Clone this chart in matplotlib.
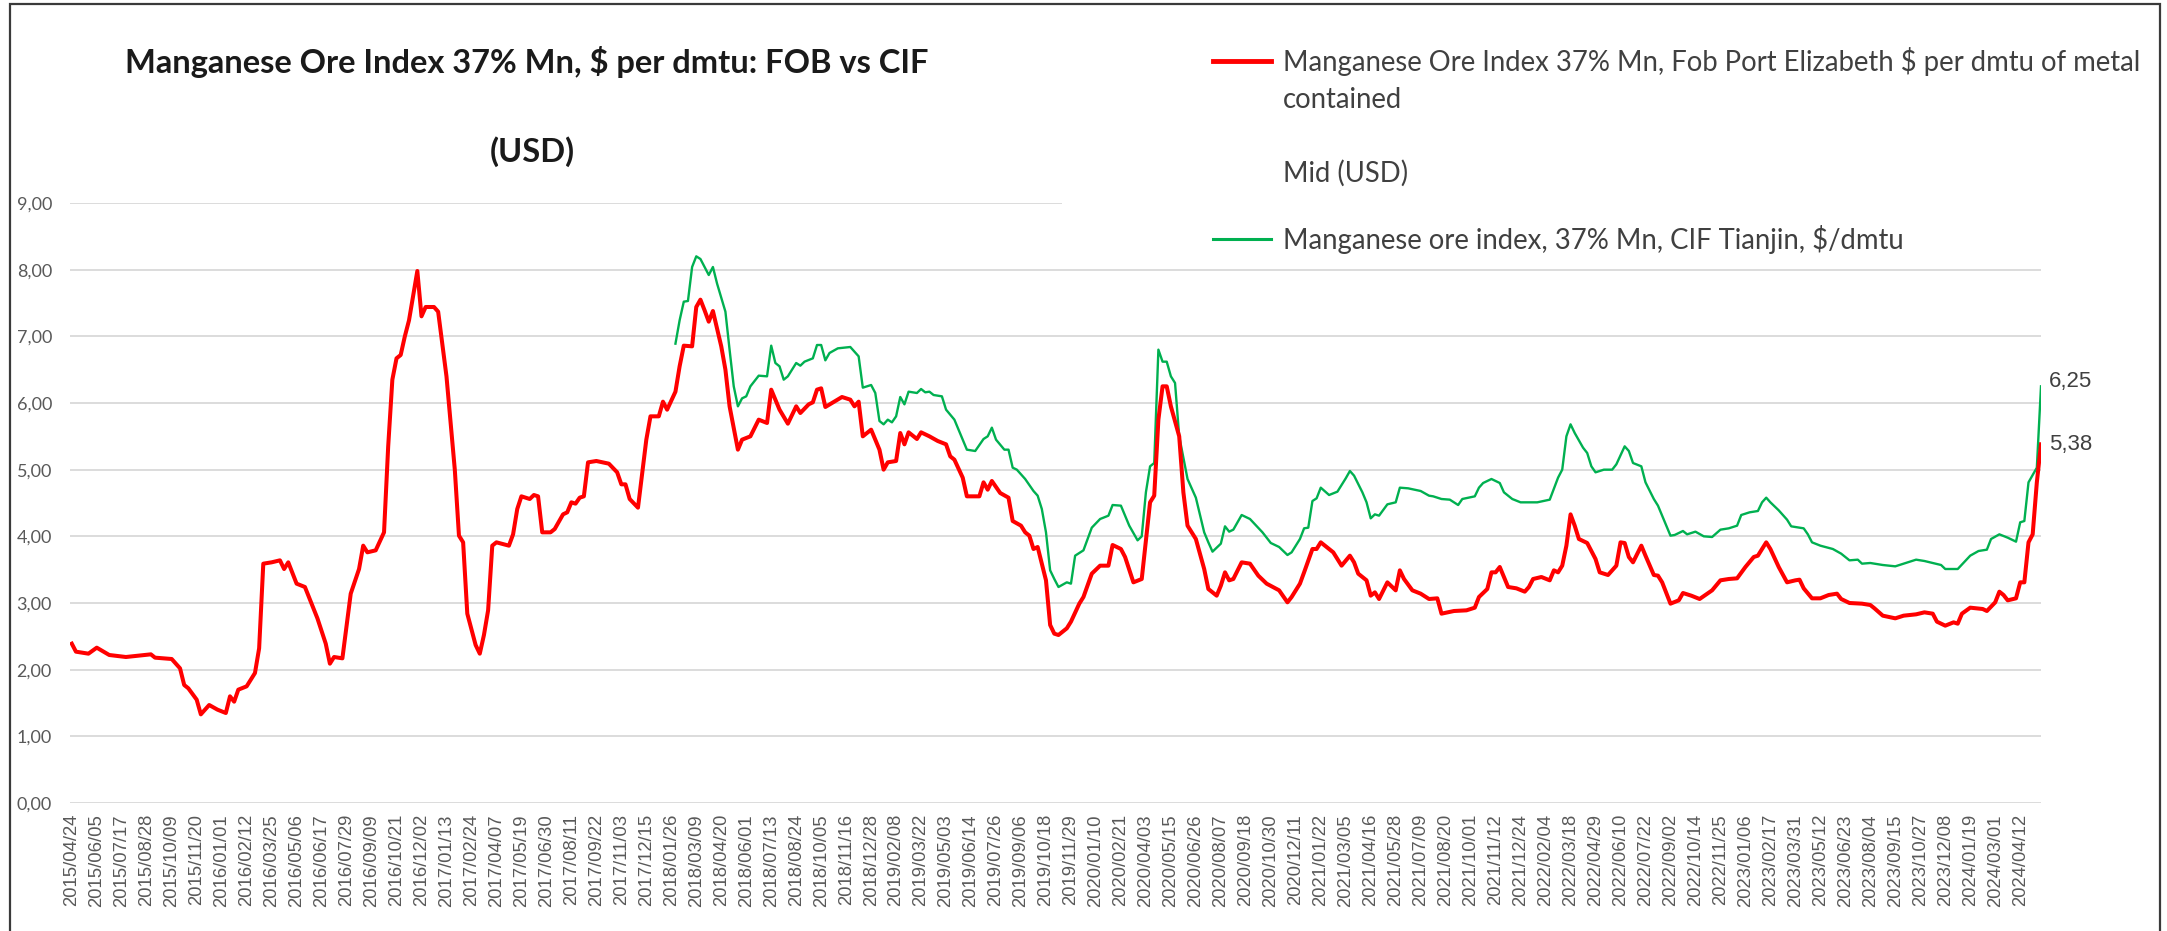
import numpy as np
import pandas as pd
import matplotlib
matplotlib.use("Agg")
import matplotlib.pyplot as plt
from matplotlib.lines import Line2D
from matplotlib.patches import Rectangle
from matplotlib.ticker import FuncFormatter

# weekly series, week numbers counted from START
START = "2015-04-24"

fob_wk = [0, 1, 4, 6, 9, 13, 19, 20, 24, 26, 27, 28, 30, 31, 33, 35, 37, 38, 39, 40, 42, 44, 45,
          46, 48, 50, 51, 52, 54, 56, 59, 61, 62, 63, 65, 67, 69, 70, 71, 73, 75, 76, 77, 78, 79,
          80, 81, 83, 84, 85, 87, 88, 90, 92, 93, 94, 95, 97, 98, 99, 100, 101, 102, 105, 106, 107,
          108, 110, 111, 112, 113, 115, 116, 118, 119, 120, 121, 122, 123, 124, 126, 129, 131, 132,
          133, 134, 136, 138, 139, 141, 142, 143, 145, 146, 147, 149, 150, 151, 152, 153, 154, 156,
          157, 158, 160, 161, 163, 165, 167, 168, 170, 172, 174, 175, 177, 178, 179, 180, 181, 185,
          187, 188, 189, 190, 192, 194, 195, 196, 198, 199, 200, 201, 203, 204, 206, 208, 210, 211,
          212, 214, 215, 218, 219, 220, 221, 223, 225, 226, 228, 229, 230, 231, 232, 234, 235, 236,
          237, 239, 240, 242, 243, 245, 247, 249, 250, 252, 253, 255, 257, 259, 260, 261, 262, 263,
          264, 266, 267, 268, 270, 272, 273, 275, 276, 277, 278, 279, 281, 283, 285, 287, 290, 292,
          293, 295, 296, 298, 299, 300, 302, 303, 305, 307, 308, 309, 311, 312, 313, 314, 316, 318,
          319, 320, 322, 324, 326, 328, 329, 332, 335, 337, 338, 340, 341, 342, 343, 345, 347, 349,
          350, 351, 353, 355, 356, 357, 358, 359, 360, 361, 362, 364, 366, 367, 369, 371, 372, 373,
          374, 375, 377, 378, 380, 381, 382, 384, 386, 387, 389, 391, 394, 396, 398, 400, 402, 404,
          405, 407, 408, 410, 412, 414, 415, 416, 418, 420, 422, 424, 425, 427, 430, 432, 433, 435,
          438, 440, 443, 445, 447, 448, 450, 452, 453, 454, 456, 459, 460, 462, 463, 464, 465, 467,
          468, 469, 470, 471, 472, 473]
fob_val = [2.39, 2.27, 2.24, 2.33, 2.22, 2.19, 2.23, 2.18, 2.16, 2.02, 1.77, 1.72, 1.55, 1.33, 1.47,
           1.40, 1.35, 1.60, 1.52, 1.70, 1.75, 1.95, 2.32,
           3.59, 3.61, 3.64, 3.51, 3.61, 3.29, 3.24, 2.77, 2.39, 2.09, 2.19, 2.17, 3.14, 3.51, 3.86,
           3.76, 3.79, 4.06, 5.35, 6.35, 6.67, 6.72,
           7.00, 7.24, 7.98, 7.30, 7.44, 7.44, 7.37, 6.40, 5.00, 4.01, 3.91, 2.84, 2.37, 2.24, 2.52,
           2.89, 3.86, 3.91, 3.86, 4.03, 4.41,
           4.60, 4.56, 4.62, 4.60, 4.06, 4.06, 4.11, 4.33, 4.36, 4.51, 4.49, 4.58, 4.60, 5.11, 5.13,
           5.09, 4.96, 4.78,
           4.78, 4.56, 4.43, 5.45, 5.80, 5.80, 6.02, 5.90, 6.17, 6.55, 6.86, 6.85, 7.44, 7.55, 7.39,
           7.22, 7.38, 6.85,
           6.50, 5.95, 5.30, 5.45, 5.50, 5.75, 5.70, 6.20, 5.90, 5.69, 5.95, 5.85, 5.98, 6.01, 6.20,
           6.22, 5.94, 6.09,
           6.05, 5.95, 6.02, 5.50, 5.60, 5.30, 5.00, 5.11, 5.13, 5.55, 5.38, 5.56, 5.46, 5.56, 5.50,
           5.43, 5.38, 5.20,
           5.15, 4.88, 4.60, 4.60, 4.81, 4.70, 4.83, 4.65, 4.58, 4.23, 4.16, 4.06, 4.01, 3.81, 3.84,
           3.34, 2.67, 2.54,
           2.52, 2.62, 2.72, 2.99, 3.09, 3.44, 3.56, 3.56, 3.87, 3.81, 3.69, 3.31, 3.36, 4.51, 4.61,
           5.75, 6.25, 6.25,
           5.95, 5.50, 4.66, 4.16, 3.96, 3.51, 3.21, 3.11, 3.26, 3.46, 3.34, 3.36, 3.61, 3.59, 3.41,
           3.29, 3.19, 3.01,
           3.09, 3.29, 3.46, 3.81, 3.81, 3.91, 3.81, 3.76, 3.56, 3.71, 3.61, 3.44, 3.34, 3.11, 3.16,
           3.06, 3.31, 3.19,
           3.49, 3.36, 3.19, 3.14, 3.06, 3.07, 2.84, 2.88, 2.89, 2.93, 3.09, 3.21, 3.46, 3.46, 3.54,
           3.24, 3.22, 3.17,
           3.24, 3.36, 3.39, 3.34, 3.49, 3.46, 3.56, 3.86, 4.33, 4.16, 3.96, 3.90, 3.66, 3.46, 3.42,
           3.56, 3.91, 3.90,
           3.69, 3.61, 3.86, 3.71, 3.42, 3.41, 3.31, 2.99, 3.04, 3.15, 3.11, 3.06, 3.19, 3.34, 3.36,
           3.37, 3.54, 3.69,
           3.71, 3.91, 3.81, 3.54, 3.31, 3.34, 3.35, 3.22, 3.07, 3.07, 3.12, 3.14, 3.06, 3.00, 2.99,
           2.97, 2.92, 2.81,
           2.77, 2.81, 2.83, 2.86, 2.84, 2.72, 2.66, 2.71, 2.69, 2.84, 2.93, 2.91, 2.88, 3.01, 3.17,
           3.12, 3.04, 3.07,
           3.31, 3.31, 3.91, 4.03, 4.81, 5.38]

cif_wk = [145, 146, 147, 148, 149, 150, 151, 152, 153, 154, 155, 157, 158, 159, 160, 161, 162, 163,
          165, 167, 168, 169, 170, 171, 172, 174, 175, 176, 178, 179, 180, 181, 182, 184, 187, 188,
          189, 190, 192, 193, 194, 195, 196, 197, 198, 199, 200, 201, 203, 204, 205, 206, 207, 209,
          210, 212, 215, 217, 219, 220, 221, 222, 224, 225, 226, 227, 229, 231, 232, 233, 234, 235,
          236, 237, 239, 240, 241, 243, 245, 247, 249, 250, 252, 254, 256, 257, 258, 259, 260, 261,
          262, 263, 264, 265, 266, 268, 270, 272, 273, 274, 276, 277, 278, 279, 281, 283, 286, 288,
          290, 292, 293, 295, 296, 297, 298, 299, 300, 302, 304, 306, 307, 308, 310, 311, 312, 313,
          314, 316, 318, 319, 321, 324, 326, 327, 329, 331, 333, 334, 337, 338, 339, 341, 343, 344,
          346, 348, 352, 355, 357, 358, 359, 360, 361, 363, 364, 365, 366, 368, 370, 371, 373, 374,
          375, 377, 378, 380, 381, 382, 384, 385, 387, 388, 390, 392, 394, 396, 398, 400, 401, 403,
          405, 406, 407, 408, 410, 412, 413, 416, 417, 418, 420, 423, 425, 427, 429, 430, 432, 435,
          438, 440, 443, 445, 447, 449, 450, 453, 456, 458, 460, 461, 463, 465, 467, 468, 469, 470,
          472, 473]
cif_val = [6.89, 7.24, 7.52, 7.53, 8.04, 8.20, 8.16, 8.04, 7.92, 8.04, 7.79, 7.37, 6.80, 6.25, 5.95,
           6.07, 6.10, 6.25,
           6.41, 6.40, 6.86, 6.60, 6.55, 6.35, 6.40, 6.60, 6.56, 6.62, 6.67, 6.87, 6.87, 6.64, 6.75,
           6.82, 6.84, 6.77,
           6.70, 6.23, 6.27, 6.15, 5.73, 5.68, 5.75, 5.71, 5.80, 6.09, 5.98, 6.17, 6.15, 6.21, 6.16,
           6.17, 6.12, 6.10,
           5.90, 5.75, 5.30, 5.28, 5.46, 5.50, 5.63, 5.45, 5.30, 5.30, 5.03, 5.00, 4.86, 4.68, 4.61,
           4.41, 4.06, 3.49,
           3.36, 3.24, 3.31, 3.29, 3.71, 3.79, 4.13, 4.26, 4.31, 4.47, 4.46, 4.16, 3.94, 4.00, 4.66,
           5.05, 5.10, 6.80,
           6.62, 6.62, 6.40, 6.30, 5.50, 4.86, 4.58, 4.06, 3.91, 3.77, 3.89, 4.15, 4.07, 4.10, 4.32,
           4.26, 4.06, 3.90,
           3.84, 3.72, 3.76, 3.96, 4.12, 4.13, 4.53, 4.57, 4.73, 4.62, 4.67, 4.87, 4.98, 4.91, 4.66,
           4.51, 4.27, 4.33,
           4.31, 4.48, 4.51, 4.73, 4.72, 4.68, 4.61, 4.60, 4.56, 4.55, 4.47, 4.56, 4.60, 4.73, 4.80,
           4.86, 4.80, 4.66,
           4.56, 4.51, 4.51, 4.55, 4.88, 5.00, 5.50, 5.68, 5.55, 5.33, 5.25, 5.05, 4.96, 5.00, 5.00,
           5.08, 5.35, 5.28,
           5.10, 5.05, 4.81, 4.56, 4.46, 4.31, 4.01, 4.02, 4.08, 4.03, 4.07, 4.00, 3.99, 4.10, 4.12,
           4.16, 4.32, 4.36,
           4.38, 4.51, 4.58, 4.51, 4.39, 4.25, 4.15, 4.12, 4.03, 3.91, 3.86, 3.81, 3.74, 3.64, 3.65,
           3.59, 3.60, 3.57,
           3.55, 3.59, 3.65, 3.63, 3.60, 3.57, 3.51, 3.51, 3.71, 3.78, 3.80, 3.96, 4.03, 3.98, 3.92,
           4.21, 4.23, 4.81,
           5.03, 6.25]

fob_label = "Manganese Ore Index 37% Mn, Fob Port Elizabeth $ per dmtu of metal"
fob_label2 = "contained"
mid_label = "Mid (USD)"
cif_label = "Manganese ore index, 37% Mn, CIF Tianjin, $/dmtu"

W, H = 2167, 931


def fx(px):   # пиксели -> доли фигуры
    return px / W


def fy(py):
    return 1 - py / H


start = pd.Timestamp(START)
fob_dates = start + pd.to_timedelta(np.array(fob_wk) * 7, unit="D")
cif_dates = start + pd.to_timedelta(np.array(cif_wk) * 7, unit="D")

fig = plt.figure(figsize=(W / 100, H / 100), dpi=100)
ax = fig.add_axes([fx(70), fy(803), fx(2041) - fx(70), fy(203) - fy(803)])

ax.plot(fob_dates, fob_val, color="#ff0000", lw=2.9, solid_joinstyle="round", zorder=3)
ax.plot(cif_dates, cif_val, color="#00b050", lw=1.7, solid_joinstyle="round", zorder=2)

ax.set_ylim(0, 9)
ax.set_yticks(range(0, 10))
ax.yaxis.set_major_formatter(FuncFormatter(lambda v, p: f"{v:.2f}".replace(".", ",")))
ax.set_xlim(start - pd.Timedelta(days=3), start + pd.Timedelta(weeks=473))

ticks = pd.date_range("2015-04-24", "2024-04-12", freq="42D")
ax.set_xticks(ticks)
ax.set_xticklabels([t.strftime("%Y/%m/%d") for t in ticks], rotation=90,
                   fontsize=13.3, family="Liberation Sans", color="#595959")
for lab in ax.get_yticklabels():
    lab.set_family("Lato")
    lab.set_fontsize(13)
    lab.set_color("#595959")

ax.tick_params(axis="both", length=0)
ax.tick_params(axis="x", pad=8)
ax.tick_params(axis="y", pad=13)
ax.grid(axis="y", color="#d9d9d9", lw=1.3)
ax.set_axisbelow(True)
for s in ax.spines.values():
    s.set_visible(False)

# подписи последних значений
ax.annotate(f"{cif_val[-1]:.2f}".replace(".", ","), (cif_dates[-1], cif_val[-1]),
            xytext=(8, 5), textcoords="offset pixels", va="center", ha="left",
            fontsize=16, family="Liberation Sans", color="#404040")
ax.annotate(f"{fob_val[-1]:.2f}".replace(".", ","), (fob_dates[-1], fob_val[-1]),
            xytext=(8, 0), textcoords="offset pixels", va="center", ha="left",
            fontsize=16, family="Liberation Sans", color="#404040")

# заголовок
fig.text(fx(527), fy(62), "Manganese Ore Index 37% Mn, $ per dmtu: FOB vs CIF",
         ha="center", va="center", fontsize=23.5, weight="bold", family="Lato", color="#1a1a1a")
fig.text(fx(532), fy(152), "(USD)", ha="center", va="center",
         fontsize=23.5, weight="bold", family="Lato", color="#1a1a1a")

# легенда (как в Excel, белая подложка поверх сетки)
fig.add_artist(Rectangle((fx(1062), fy(215)), fx(2045) - fx(1062), fy(20) - fy(215),
                         transform=fig.transFigure, facecolor="white", edgecolor="none", zorder=1))
fig.add_artist(Line2D([fx(1213), fx(1271)], [fy(61), fy(61)], color="#ff0000", lw=3.5, zorder=2))
fig.add_artist(Line2D([fx(1213), fx(1271)], [fy(239), fy(239)], color="#00b050", lw=2.2, zorder=2))
leg_kw = dict(ha="left", va="center", fontsize=19.8, family="Lato", color="#404040", zorder=3)
fig.text(fx(1283), fy(61), fob_label, **leg_kw)
fig.text(fx(1283), fy(100), fob_label2, **leg_kw)
fig.text(fx(1283), fy(173), mid_label, **leg_kw)
fig.text(fx(1283), fy(239), cif_label, **leg_kw)

# рамка вокруг всей диаграммы
fig.add_artist(Rectangle((fx(10), -0.05), fx(2160) - fx(10), fy(4) + 0.05,
                         transform=fig.transFigure, fill=False, edgecolor="#3a3a3a", lw=1.6, zorder=4))

fig.savefig("out.png", dpi=100)
